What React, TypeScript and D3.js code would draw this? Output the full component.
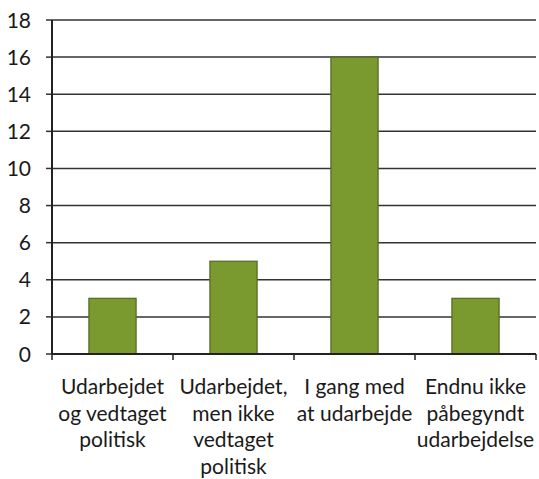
import React from "react";
import * as d3 from "d3";

const categories = [
  ["Udarbejdet", "og vedtaget", "politisk"],
  ["Udarbejdet,", "men ikke", "vedtaget", "politisk"],
  ["I gang med", "at udarbejde"],
  ["Endnu ikke", "påbegyndt", "udarbejdelse"],
];
const values = [3, 5, 16, 3];
const yTicks = [0, 2, 4, 6, 8, 10, 12, 14, 16, 18];

const W = 539, H = 479;
const left = 52, right = 536, top = 20, bottom = 354;

export default function App() {
  const keys = categories.map((_, i) => String(i));
  const x = d3.scaleBand().domain(keys).range([left, right]).paddingInner(0.61).paddingOuter(0.305);
  const y = d3.scaleLinear().domain([0, 18]).range([bottom, top]);
  const band = (right - left) / categories.length;
  const font = "Lato, 'Open Sans', sans-serif";
  return (
    <svg width={W} height={H} style={{ position: "absolute", left: 0, top: 0, background: "#fff" }}>
      {yTicks.map((t) => (
        <g key={t}>
          {t > 0 && <line x1={left} x2={right} y1={y(t)} y2={y(t)} stroke="#333" strokeWidth={1.5} />}
          <line x1={left - 6} x2={left} y1={y(t)} y2={y(t)} stroke="#333" strokeWidth={1.5} />
          <text x={31} y={y(t)} dy="0.36em" textAnchor="end" fontFamily={font} fontSize={21} fill="#1a1a1a">{t}</text>
        </g>
      ))}
      {values.map((v, i) => (
        <rect key={i} x={x(String(i))} y={y(v)} width={x.bandwidth()} height={y(0) - y(v)}
          fill="#7a9a30" stroke="#4f6a22" strokeWidth={1.2} />
      ))}
      <line x1={left} x2={left} y1={top} y2={bottom} stroke="#222" strokeWidth={2} />
      <line x1={left} x2={right} y1={bottom} y2={bottom} stroke="#222" strokeWidth={2} />
      {d3.range(categories.length + 1).map((i) => (
        <line key={i} x1={left + i * band} x2={left + i * band} y1={bottom} y2={bottom + 6} stroke="#222" strokeWidth={1.5} />
      ))}
      {categories.map((lines, i) => (
        <text key={i} textAnchor="middle" fontFamily={font} fontSize={21} fill="#1a1a1a">
          {lines.map((l, j) => (
            <tspan key={j} x={x(String(i))! + x.bandwidth() / 2} y={394 + j * 26.5}>{l}</tspan>
          ))}
        </text>
      ))}
    </svg>
  );
}
